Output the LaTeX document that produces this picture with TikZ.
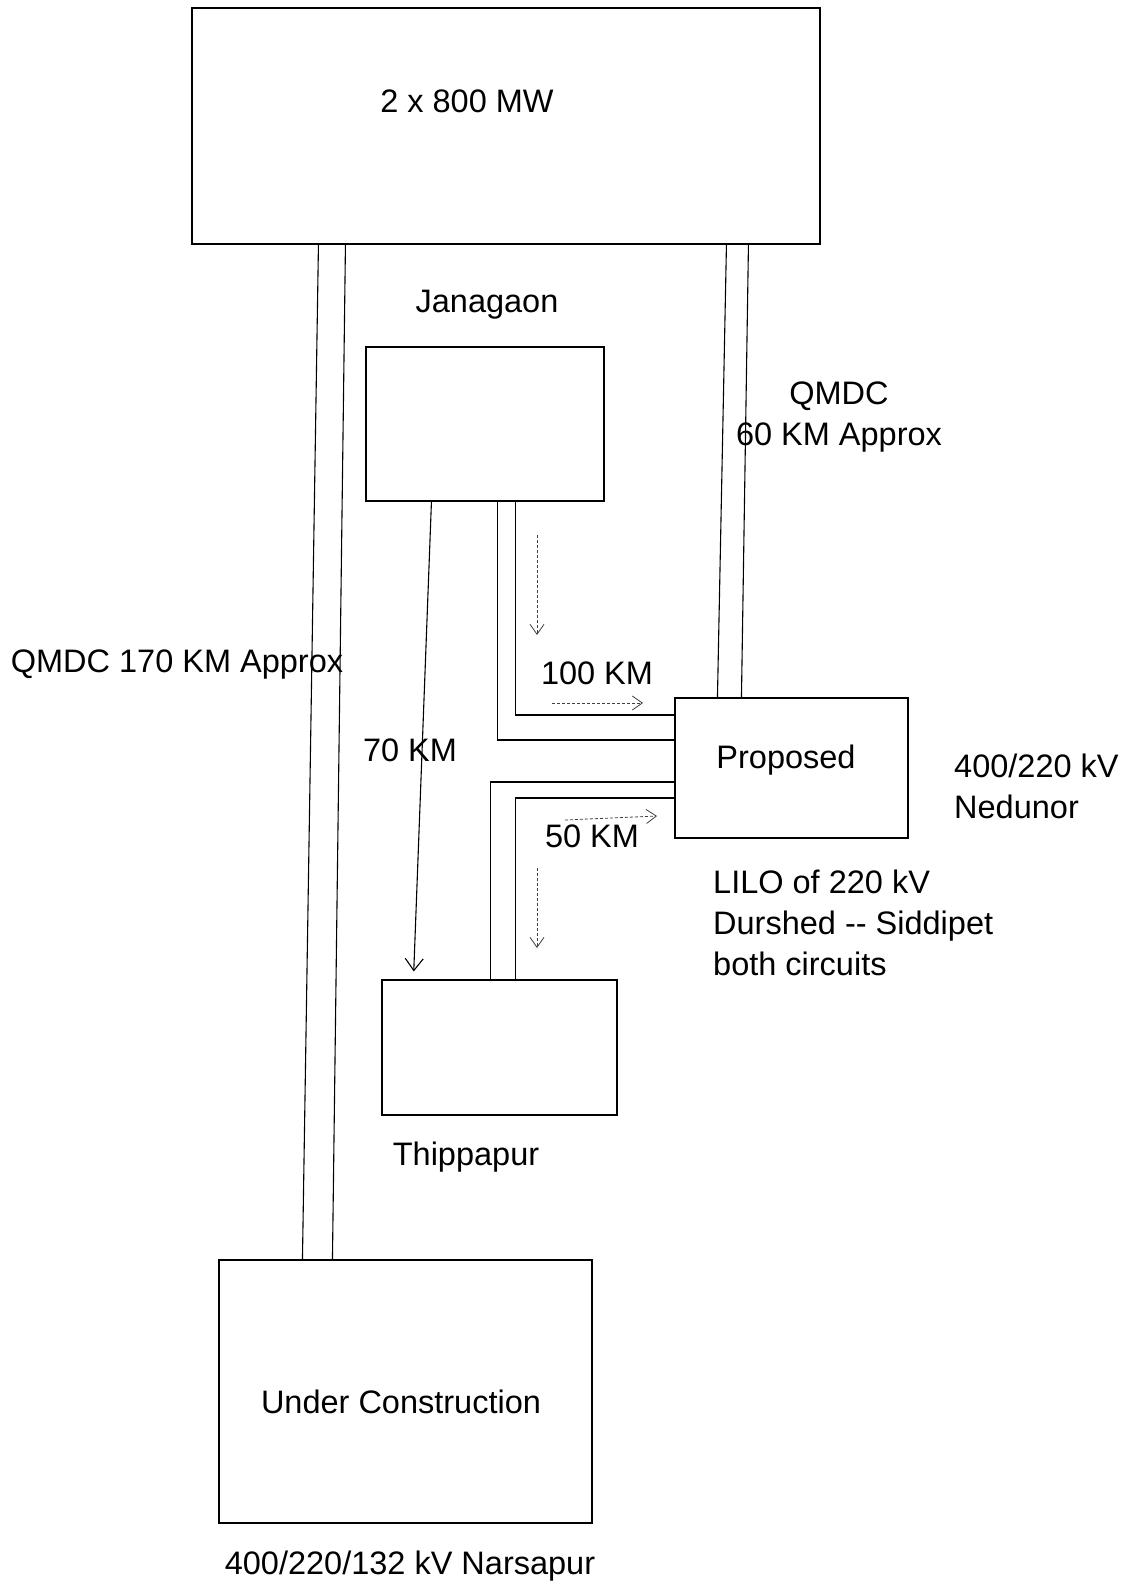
\documentclass[tikz,border=0pt]{standalone}
\usepackage{fontspec}
\setmainfont{Liberation Sans}
\usetikzlibrary{arrows.meta}
\begin{document}
\begin{tikzpicture}[x=1pt,y=-1pt,
  box/.style={draw, line width=1.1pt, inner sep=0pt},
  txt/.style={font=\fontsize{32.5}{41}\selectfont, inner sep=0pt},
  wire/.style={line width=1.1pt},
  bigarrow/.style={line width=1.1pt, -{Straight Barb[length=12pt,width=18pt]}},
  flow/.style={line width=0.8pt, densely dashed, black!75, -{Straight Barb[length=10pt,width=14pt]}}]
\fill[white] (0,0) rectangle (1122,1587);
\useasboundingbox (0,0) rectangle (1122,1587);

% boxes
\node[box, minimum width=628pt, minimum height=236pt] (top) at (506,126) {};
\node[box, minimum width=238pt, minimum height=154pt] (jan) at (485,424) {};
\node[box, minimum width=233pt, minimum height=140pt] (prop) at (791.5,768) {};
\node[box, minimum width=235pt, minimum height=135pt] (thip) at (499.5,1047.5) {};
\node[box, minimum width=373pt, minimum height=263pt] (uc) at (405.5,1391.5) {};

% labels
\node[txt] (l800) at (467,101) {2 x 800 MW};
\node[txt] (ljan) at (487,305) {Janagaon};
\node[txt] (lprop) at (786,760) {Proposed};
\node[txt] (luc) at (401,1402) {Under Construction};
\node[txt, align=center] (lq60) at (839,417) {QMDC\\60 KM Approx};
\node[txt] (lq170) at (177,665) {QMDC 170 KM Approx};
\node[txt] (l100) at (597,673) {100 KM};
\node[txt] (l70) at (410,750) {70 KM};
\node[txt, align=left, anchor=west] (lned) at (954,786.5) {400/220 kV\\Nedunor};
\node[txt] (l50) at (592,836) {50 KM};
\node[txt, align=left, anchor=west] (llilo) at (713,923) {LILO of 220 kV\\Durshed -{}- Siddipet\\both circuits};
\node[txt] (lthip) at (466,1157) {Thippapur};
\node[txt] (lnar) at (410,1566) {400/220/132 kV Narsapur};

% QMDC 170 km double line
\draw[wire] ([xshift=127pt]top.south west) -- ([xshift=84pt]uc.north west);
\draw[wire] ([xshift=154pt]top.south west) -- ([xshift=114pt]uc.north west);

% QMDC 60 km double line
\draw[wire] ([xshift=535pt]top.south west) -- ([xshift=43pt]prop.north west);
\draw[wire] ([xshift=557pt]top.south west) -- ([xshift=67pt]prop.north west);

% Janagaon -> Thippapur 70 km
\draw[bigarrow, shorten >=8pt] ([xshift=66pt]jan.south west) -- ([xshift=32pt]thip.north west);

% Janagaon -> Proposed 100 km
\draw[wire] ([xshift=132pt]jan.south west) |- ([yshift=28pt]prop.west);
\draw[wire] ([xshift=150pt]jan.south west) |- ([yshift=53pt]prop.west);

% Thippapur -> Proposed 50 km
\draw[wire] ([xshift=109pt]thip.north west) |- ([yshift=-14pt]prop.west);
\draw[wire] ([xshift=134pt]thip.north west) |- ([yshift=-30pt]prop.west);

% flow arrows
\coordinate (fa1) at (537,535);
\coordinate (fa2) at (537,635);
\draw[flow] (fa1) -- (fa2);
\coordinate (fb1) at (552,703);
\coordinate (fb2) at (643,703);
\draw[flow] (fb1) -- (fb2);
\coordinate (fc1) at (565,820);
\coordinate (fc2) at (657,816);
\draw[flow] (fc1) -- (fc2);
\coordinate (fd1) at (537,868);
\coordinate (fd2) at (537,948);
\draw[flow] (fd1) -- (fd2);
\end{tikzpicture}
\end{document}
